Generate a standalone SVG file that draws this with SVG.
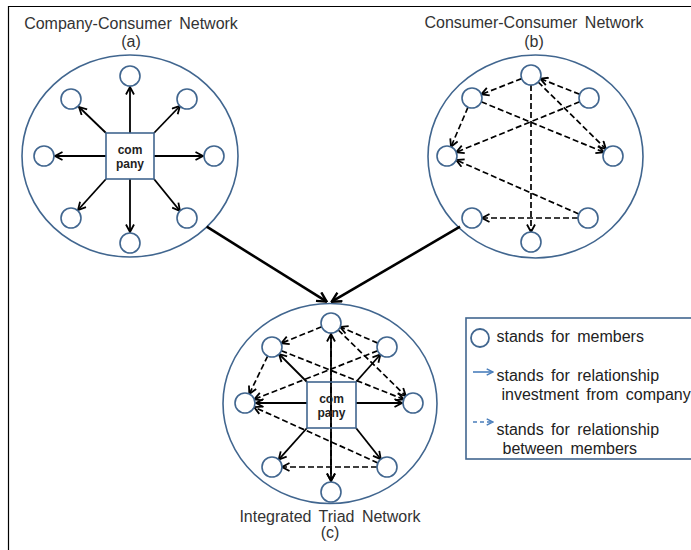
<svg xmlns="http://www.w3.org/2000/svg" width="691" height="550" viewBox="0 0 691 550">
<style>
.big{fill:none;stroke:#41668f;stroke-width:1.6}
.nd{fill:#fff;stroke:#41668f;stroke-width:1.6}
.box{fill:#fff;stroke:#41668f;stroke-width:1.6}
.boxc{fill:none;stroke:#41668f;stroke-width:1.6}
.sol{fill:none;stroke:#000;stroke-width:1.8;marker-end:url(#ah)}
.dsh{fill:none;stroke:#000;stroke-width:1.7;stroke-dasharray:6 3;marker-end:url(#ah)}
.bigarr{fill:none;stroke:#000;stroke-width:2.6;marker-end:url(#ahb)}
.ttl{font-family:"Liberation Sans",Arial,sans-serif;font-size:16px;fill:#333;word-spacing:3px;text-anchor:middle}
.lg{font-family:"Liberation Sans",Arial,sans-serif;font-size:16px;fill:#222;word-spacing:3px}
.cp{font-family:"Liberation Sans",Arial,sans-serif;font-size:12px;font-weight:bold;fill:#222;text-anchor:middle}
</style>
<defs>
<marker id="ah" viewBox="0 0 10 10" refX="9" refY="5" markerWidth="10" markerHeight="10" markerUnits="userSpaceOnUse" orient="auto"><path d="M1.5,1 L9,5 L1.5,9" fill="none" stroke="#000" stroke-width="1.8"/></marker>
<marker id="ahb" viewBox="0 0 12 12" refX="11" refY="6" markerWidth="12" markerHeight="12" markerUnits="userSpaceOnUse" orient="auto"><path d="M1.5,1 L11,6 L1.5,11" fill="none" stroke="#000" stroke-width="2.4"/></marker>
<marker id="ahl" viewBox="0 0 10 10" refX="9" refY="5" markerWidth="9" markerHeight="9" markerUnits="userSpaceOnUse" orient="auto"><path d="M2,1.5 L9,5 L2,8.5" fill="none" stroke="#4a7ebb" stroke-width="1.6"/></marker>
</defs>
<rect width="691" height="550" fill="#fff"/>
<path d="M8.5,550 V6.5 H691" fill="none" stroke="#000" stroke-width="1.2"/>

<g id="titles">
<text class="ttl" x="131" y="29">Company-Consumer Network</text>
<text class="ttl" x="131" y="47">(a)</text>
<text class="ttl" x="534" y="28">Consumer-Consumer Network</text>
<text class="ttl" x="534" y="47">(b)</text>
<text class="ttl" x="330" y="522">Integrated Triad Network</text>
<text class="ttl" x="330" y="538">(c)</text>
</g>

<g id="network-a">
<ellipse class="big" cx="130" cy="156" rx="108" ry="101"/>
</g>
<g id="network-b">
<ellipse class="big" cx="535.5" cy="156.5" rx="107.5" ry="101.5"/>
</g>
<g id="network-c">
<ellipse class="big" cx="330" cy="403.5" rx="107" ry="100"/>
</g>

<g id="connectors">
<!-- (a) -->
<line class="sol" x1="130" y1="133" x2="130" y2="87"/>
<line class="sol" x1="130" y1="179" x2="130" y2="232"/>
<line class="sol" x1="106" y1="156" x2="55" y2="156"/>
<line class="sol" x1="154" y1="156" x2="203" y2="156"/>
<line class="sol" x1="106" y1="133" x2="79" y2="107"/>
<line class="sol" x1="154" y1="133" x2="180" y2="106"/>
<line class="sol" x1="106" y1="179" x2="78" y2="210"/>
<line class="sol" x1="154" y1="179" x2="180" y2="211"/>
<!-- (b) -->
<line class="dsh" x1="521.7" y1="78.6" x2="481.3" y2="94.4"/>
<line class="dsh" x1="579.7" y1="94.3" x2="540.3" y2="78.7"/>
<line class="dsh" x1="538.1" y1="82" x2="605.9" y2="149"/>
<line class="dsh" x1="531" y1="85" x2="531" y2="232"/>
<line class="dsh" x1="468" y1="107.2" x2="451" y2="146.8"/>
<line class="dsh" x1="481.2" y1="101.8" x2="603.8" y2="152.2"/>
<line class="dsh" x1="579.7" y1="101.8" x2="456.3" y2="152.2"/>
<line class="dsh" x1="578.8" y1="214" x2="456.2" y2="160"/>
<line class="dsh" x1="578" y1="218" x2="482" y2="218"/>
<!-- big arrows -->
<line class="bigarr" x1="206.7" y1="226.7" x2="326.7" y2="301.7"/>
<line class="bigarr" x1="460" y1="226.7" x2="331.7" y2="301.7"/>
<!-- (c) dashed -->
<line class="dsh" x1="321.7" y1="326.8" x2="281.3" y2="343.2"/>
<line class="dsh" x1="377.8" y1="343.1" x2="340.2" y2="326.9"/>
<line class="dsh" x1="338.2" y1="330" x2="405.8" y2="396"/>
<line class="dsh" x1="331" y1="333" x2="331" y2="481"/>
<line class="dsh" x1="267.7" y1="356" x2="249.3" y2="394"/>
<line class="dsh" x1="281.3" y1="350.7" x2="403.7" y2="399.3"/>
<line class="dsh" x1="377.7" y1="350.7" x2="254.3" y2="399.3"/>
<line class="dsh" x1="377.9" y1="462.9" x2="254.1" y2="407.1"/>
<line class="dsh" x1="377" y1="467" x2="282" y2="467"/>
<!-- (c) solid -->
<line class="sol" x1="331" y1="405" x2="331" y2="334"/>
<line class="sol" x1="331" y1="405" x2="331" y2="481"/>
<line class="sol" x1="307" y1="403" x2="256" y2="403"/>
<line class="sol" x1="356" y1="403" x2="402" y2="403"/>
<line class="sol" x1="307" y1="382" x2="279" y2="354"/>
<line class="sol" x1="356" y1="382" x2="380.4" y2="354.5"/>
<line class="sol" x1="307" y1="428" x2="278.7" y2="459.6"/>
<line class="sol" x1="356" y1="428" x2="380.8" y2="459.2"/>
</g>

<g id="company-a">
<rect class="box" x="106" y="133" width="48" height="46"/>
<text class="cp" x="130" y="154">com</text>
<text class="cp" x="130" y="168">pany</text>
</g>
<g id="nodes-a">
<circle class="nd" cx="130" cy="76" r="10"/>
<circle class="nd" cx="71" cy="99" r="10"/>
<circle class="nd" cx="187" cy="99" r="10"/>
<circle class="nd" cx="44" cy="156" r="10"/>
<circle class="nd" cx="214" cy="156" r="10"/>
<circle class="nd" cx="71" cy="218" r="10"/>
<circle class="nd" cx="187" cy="218" r="10"/>
<circle class="nd" cx="130" cy="243" r="10"/>
</g>
<g id="nodes-b">
<circle class="nd" cx="531" cy="75" r="10"/>
<circle class="nd" cx="472" cy="98" r="10"/>
<circle class="nd" cx="589" cy="98" r="10"/>
<circle class="nd" cx="447" cy="156" r="10"/>
<circle class="nd" cx="613" cy="156" r="10"/>
<circle class="nd" cx="472" cy="218" r="10"/>
<circle class="nd" cx="588" cy="218" r="10"/>
<circle class="nd" cx="531" cy="242" r="10"/>
</g>
<g id="company-c">
<rect class="boxc" x="307" y="382" width="49" height="46"/>
<text class="cp" x="331.5" y="403">com</text>
<text class="cp" x="331.5" y="417">pany</text>
</g>
<g id="nodes-c">
<circle class="nd" cx="331" cy="323" r="10"/>
<circle class="nd" cx="272" cy="347" r="10"/>
<circle class="nd" cx="387" cy="347" r="10"/>
<circle class="nd" cx="245" cy="403" r="10"/>
<circle class="nd" cx="413" cy="403" r="10"/>
<circle class="nd" cx="272" cy="467" r="10"/>
<circle class="nd" cx="387" cy="467" r="10"/>
<circle class="nd" cx="331" cy="492" r="10"/>
</g>

<g id="legend">
<rect x="466" y="318" width="240" height="141" fill="#fff" stroke="#41668f" stroke-width="1.6"/>
<circle cx="480" cy="338" r="9" fill="#fff" stroke="#41668f" stroke-width="1.8"/>
<text class="lg" x="496.5" y="342">stands for members</text>
<line x1="473" y1="372" x2="493" y2="372" stroke="#4a7ebb" stroke-width="1.6" marker-end="url(#ahl)"/>
<text class="lg" x="496.5" y="381">stands for relationship</text>
<text class="lg" x="501.5" y="399.5">investment from company</text>
<line x1="473" y1="422" x2="493" y2="422" stroke="#4a7ebb" stroke-width="1.6" stroke-dasharray="4 3" marker-end="url(#ahl)"/>
<text class="lg" x="496.5" y="435">stands for relationship</text>
<text class="lg" x="502.5" y="453.5">between members</text>
</g>
</svg>
